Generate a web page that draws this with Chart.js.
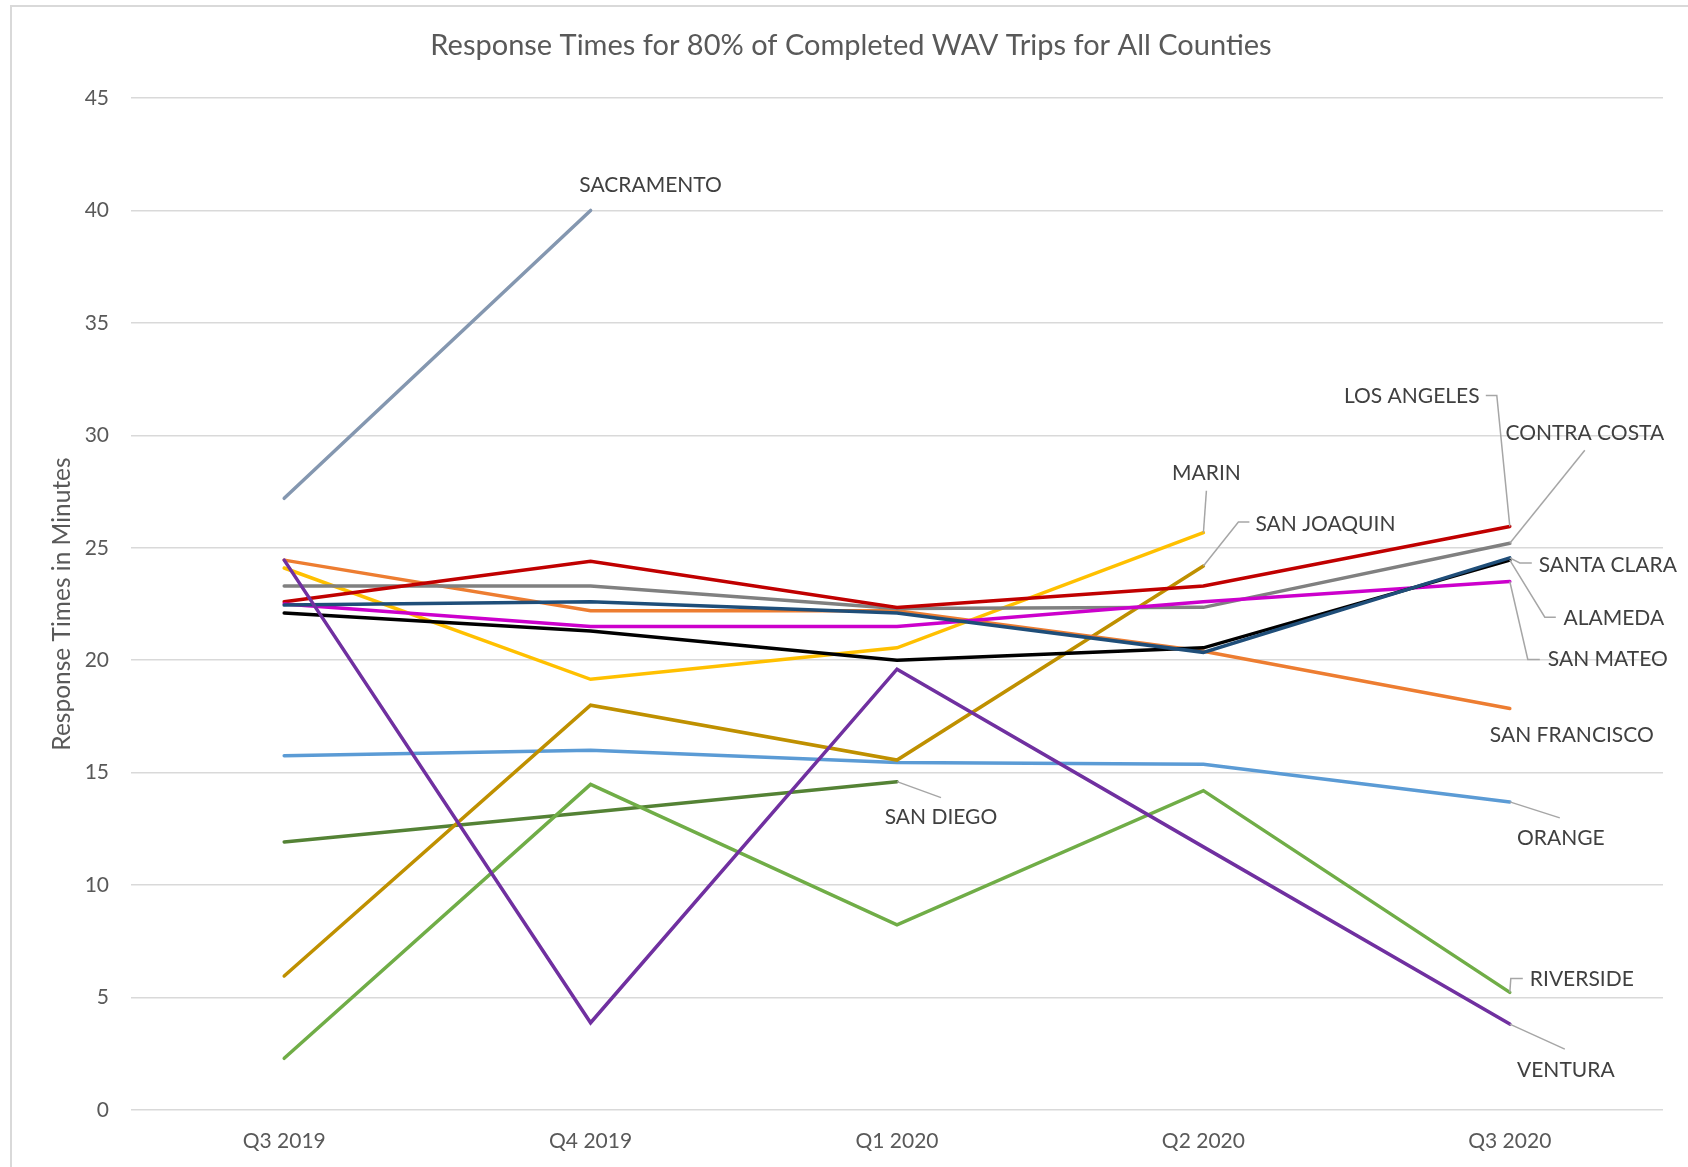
<!DOCTYPE html>
<html>
<head>
<meta charset="utf-8">
<title>Response Times for 80% of Completed WAV Trips for All Counties</title>
<script src="https://cdn.jsdelivr.net/npm/chart.js@4.4.1/dist/chart.umd.min.js"></script>
<style>
  html, body { margin: 0; padding: 0; background: #ffffff; overflow: hidden; }
  #chart { display: block; }
</style>
</head>
<body>
<canvas id="chart" width="1688" height="1167"></canvas>
<script>

// Categories
var quarters = ['Q3 2019', 'Q4 2019', 'Q1 2020', 'Q2 2020', 'Q3 2020'];

// Minutes (null = no data for that quarter)
var losAngeles   = [22.6, 24.4, 22.35, 23.3, 25.95];
var contraCosta  = [23.3, 23.3, 22.3, 22.35, 25.2];
var santaClara   = [22.45, 22.6, 22.1, 20.35, 24.55];
var alameda      = [22.1, 21.3, 20.0, 20.55, 24.45];
var sanMateo     = [22.5, 21.5, 21.5, 22.6, 23.5];
var sanFrancisco = [24.45, 22.2, 22.2, 20.4, 17.85];
var orange       = [15.75, 16.0, 15.45, 15.37, 13.7];
var riverside    = [2.3, 14.48, 8.23, 14.2, 5.23];
var ventura      = [24.45, 3.88, 19.6, 11.7, 3.82];
var marin        = [24.1, 19.15, 20.55, 25.67, null];
var sanJoaquin   = [5.96, 18.0, 15.56, 24.19, null];
var sanDiego     = [11.92, 13.24, 14.6, null, null];
var sacramento   = [27.2, 40.0, null, null, null];

// Y axis
var yMin = 0;
var yMax = 45;
var yStep = 5;

var chartTitle = 'Response Times for 80% of Completed WAV Trips for All Counties';
var yTitle = 'Response Times in Minutes';

// Series: name, values, line colour (first one is drawn on top)
var series = [
	['VENTURA', ventura, '#7030A0'],
	['SANTA CLARA', santaClara, '#1F4E79'],
	['ALAMEDA', alameda, '#000000'],
	['SAN MATEO', sanMateo, '#CC00CC'],
	['LOS ANGELES', losAngeles, '#C00000'],
	['CONTRA COSTA', contraCosta, '#808080'],
	['SAN FRANCISCO', sanFrancisco, '#ED7D31'],
	['MARIN', marin, '#FFC000'],
	['SAN JOAQUIN', sanJoaquin, '#BF9000'],
	['ORANGE', orange, '#5B9BD5'],
	['RIVERSIDE', riverside, '#70AD47'],
	['SAN DIEGO', sanDiego, '#548235'],
	['SACRAMENTO', sacramento, '#8497B0'],
];

// Data label placement, relative to the last point of each line:
// text centre offset, then the leader line bends (if any)
var labelPlacement = {
	'SACRAMENTO':    { text: [60, -25], leader: [] },
	'LOS ANGELES':   { text: [-98, -130], leader: [[-13, -131], [-24, -131]] },
	'CONTRA COSTA':  { text: [75, -110], leader: [[75, -93]] },
	'SANTA CLARA':   { text: [98, 7], leader: [[10, 5], [22, 5]] },
	'ALAMEDA':       { text: [104, 58], leader: [[35, 57], [46, 57]] },
	'SAN MATEO':     { text: [98, 78], leader: [[18, 78], [30, 78]] },
	'SAN FRANCISCO': { text: [62, 27], leader: [] },
	'ORANGE':        { text: [51, 36], leader: [[50, 16]] },
	'RIVERSIDE':     { text: [72, -13], leader: [[1, -14], [13, -14]] },
	'VENTURA':       { text: [56, 46], leader: [[55, 25]] },
	'SAN DIEGO':     { text: [44, 36], leader: [[44, 16]] },
	'MARIN':         { text: [3, -59], leader: [[3, -42]] },
	'SAN JOAQUIN':   { text: [122, -42], leader: [[35, -44], [46, -44]] },
};

var fontFamily = 'Lato, "Open Sans", sans-serif';
var textGrey = '#595959';
var labelGrey = '#404040';
var leaderGrey = '#A6A6A6';
var gridGrey = '#D9D9D9';

// Outer frame, title and y title
var framePlugin = {
	id: 'frame',
	beforeDraw: function (chart) {
		var ctx = chart.ctx;
		ctx.save();
		ctx.fillStyle = '#ffffff';
		ctx.fillRect(0, 0, chart.width, chart.height);
		ctx.strokeStyle = gridGrey;
		ctx.lineWidth = 2;
		ctx.strokeRect(11, 6, 1720, 1220);

		ctx.fillStyle = textGrey;
		ctx.textAlign = 'center';
		ctx.textBaseline = 'middle';
		ctx.font = '29px ' + fontFamily;
		ctx.fillText(chartTitle, 851, 46);

		var area = chart.chartArea;
		ctx.translate(62, (area.top + area.bottom) / 2);
		ctx.rotate(-Math.PI / 2);
		ctx.font = '24.5px ' + fontFamily;
		ctx.fillText(yTitle, 0, 0);
		ctx.restore();
	}
};

// County names with leader lines
var labelsPlugin = {
	id: 'countyLabels',
	afterDatasetsDraw: function (chart) {
		var ctx = chart.ctx;
		ctx.save();
		chart.data.datasets.forEach(function (ds, i) {
			var place = labelPlacement[ds.label];
			if (!place) return;
			var last = -1;
			ds.data.forEach(function (v, j) {
				if (v !== null) last = j;
			});
			var pt = chart.getDatasetMeta(i).data[last];
			if (place.leader.length) {
				ctx.strokeStyle = leaderGrey;
				ctx.lineWidth = 1.5;
				ctx.beginPath();
				ctx.moveTo(pt.x, pt.y);
				place.leader.forEach(function (p) {
					ctx.lineTo(pt.x + p[0], pt.y + p[1]);
				});
				ctx.stroke();
			}
			ctx.fillStyle = labelGrey;
			ctx.font = '21px ' + fontFamily;
			ctx.textAlign = 'center';
			ctx.textBaseline = 'middle';
			ctx.fillText(ds.label, pt.x + place.text[0], pt.y + place.text[1]);
		});
		ctx.restore();
	}
};

var datasets = series.map(function (s) {
	return {
		label: s[0],
		data: s[1],
		borderColor: s[2],
		backgroundColor: s[2],
		borderWidth: 3.5,
		borderCapStyle: 'round',
		borderJoinStyle: 'miter',
		pointRadius: 0,
		tension: 0,
		spanGaps: false
	};
});

new Chart(document.getElementById('chart').getContext('2d'), {
	type: 'line',
	data: {
		labels: quarters,
		datasets: datasets
	},
	options: {
		responsive: false,
		animation: false,
		devicePixelRatio: 1,
		layout: {
			padding: { top: 98, right: 25, bottom: 0, left: 0 }
		},
		plugins: {
			legend: { display: false },
			title: { display: false },
			tooltip: { enabled: false }
		},
		scales: {
			x: {
				offset: true,
				grid: { display: false, drawTicks: false },
				border: { display: false },
				ticks: {
					color: textGrey,
					padding: 19,
					font: { family: fontFamily, size: 21 }
				},
				afterFit: function (scale) { scale.height = 57; }
			},
			y: {
				min: yMin,
				max: yMax,
				grid: { color: gridGrey, lineWidth: 1.6, drawTicks: false },
				border: { display: false },
				ticks: {
					stepSize: yStep,
					color: textGrey,
					padding: 22,
					font: { family: fontFamily, size: 21 }
				},
				afterFit: function (scale) { scale.width = 131; }
			}
		}
	},
	plugins: [framePlugin, labelsPlugin]
});
</script>
</body>
</html>
